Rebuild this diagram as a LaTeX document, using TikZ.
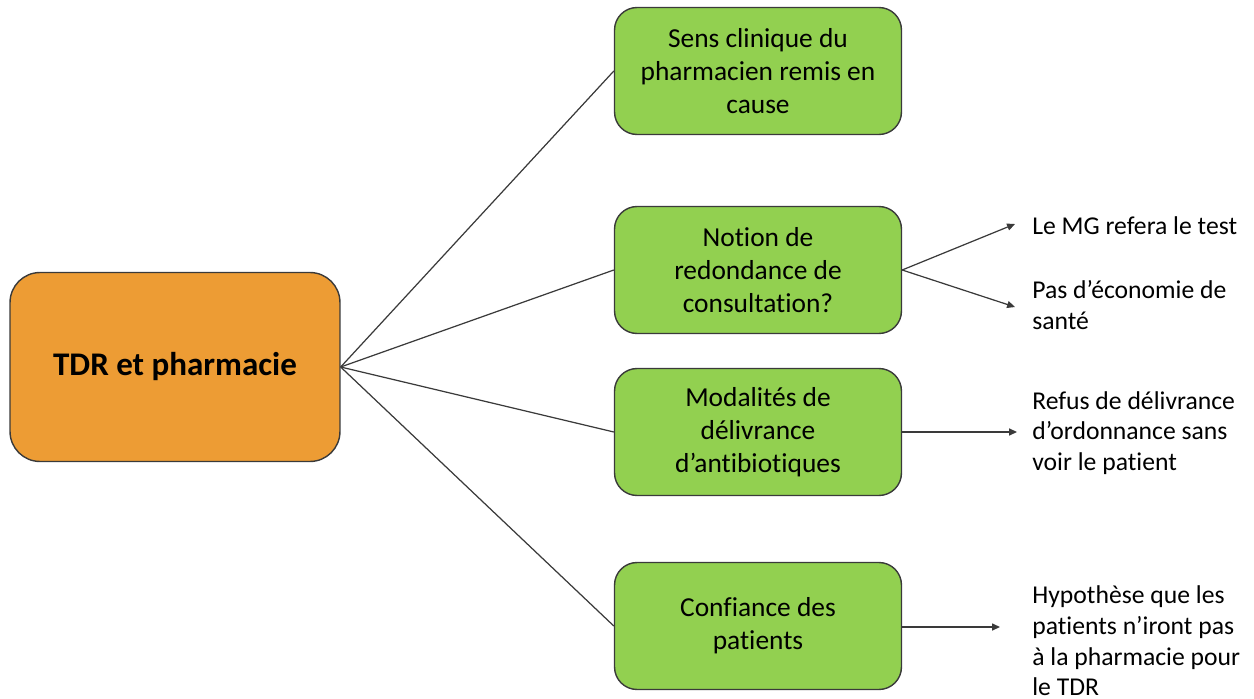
\documentclass[tikz,border=0pt]{standalone}
\usepackage{fontspec}
\setmainfont{Carlito}[Ligatures=NoCommon]
\usetikzlibrary{arrows.meta}

\definecolor{orangebox}{HTML}{ED9C34}
\definecolor{greenbox}{HTML}{92D050}
\definecolor{edgegray}{HTML}{3A3A3A}

\tikzset{
  mainbox/.style={draw=edgegray, line width=0.8pt, fill=orangebox, rounded corners=0.6cm,
    minimum width=6.6cm, minimum height=3.78cm, align=center,
    font=\fontsize{18.8}{22}\selectfont\bfseries},
  topicbox/.style={draw=edgegray, line width=0.8pt, fill=greenbox, rounded corners=0.45cm,
    minimum width=5.74cm, minimum height=2.54cm, align=center,
    font=\fontsize{15.6}{18.8}\selectfont},
  note/.style={anchor=west, align=left, inner sep=0pt,
    font=\fontsize{14.6}{17.4}\selectfont},
  link/.style={edgegray, line width=0.7pt},
  arr/.style={link, -{Triangle[length=4.5pt,width=4pt]}}
}

\begin{document}
\begin{tikzpicture}[x=0.02cm, y=-0.02cm]
    \useasboundingbox (0,0) rectangle (1254,699);

    \node[mainbox] (T) at (175,367) {TDR et pharmacie};

    \node[topicbox] (S1) at (758,71) {Sens clinique du\\pharmacien remis en\\cause};
    \node[topicbox] (S2) at (758,270) {Notion de\\redondance de\\consultation?};
    \node[topicbox] (S3) at (758,432) {Modalités de\\délivrance\\d’antibiotiques};
    \node[topicbox] (S4) at (758,626) {Confiance des\\patients};

    \node[note] (N1) at (1032,226) {Le MG refera le test};
    \node[note] (N2) at (1032,305) {Pas d’économie de\\santé};
    \node[note] (N3) at (1032,433) {Refus de délivrance\\d’ordonnance sans\\voir le patient};
    \node[note] (N4) at (1032,641) {Hypothèse que les\\patients n’iront pas\\à la pharmacie pour\\le TDR};

    \coordinate (E1) at (1015,224);
    \coordinate (E2) at (1015,307);
    \coordinate (E3) at (1017,432);
    \coordinate (E4) at (1000,627);

    \foreach \s in {S1,S2,S3,S4}
        \draw[link] (T.east) -- (\s.west);

    \draw[arr] (S2.east) -- (E1);
    \draw[arr] (S2.east) -- (E2);
    \draw[arr] (S3.east) -- (E3);
    \draw[arr] (S4.east |- E4) -- (E4);

\end{tikzpicture}
\end{document}
